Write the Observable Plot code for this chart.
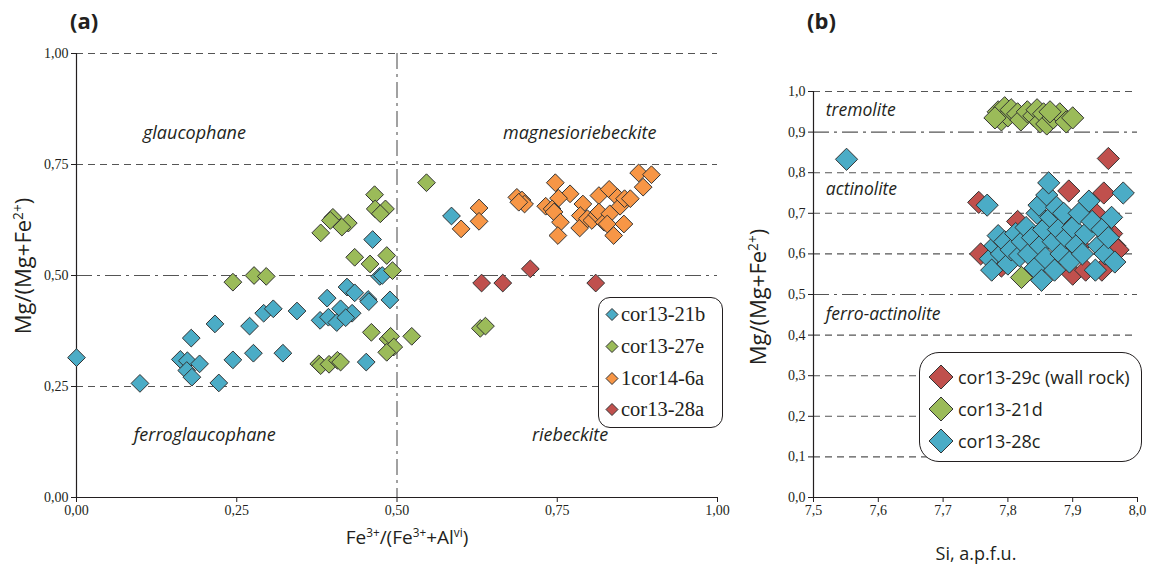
<!DOCTYPE html>
<html><head><meta charset="utf-8">
<script src="https://cdn.jsdelivr.net/npm/d3@7"></script>
<script src="https://cdn.jsdelivr.net/npm/@observablehq/plot@0.6"></script>
<style>
body{margin:0;background:#fff;}
#wrap{position:relative;width:1153px;height:572px;overflow:hidden;font-family:"Open Sans",sans-serif;color:#231f20;}
.abs{position:absolute;white-space:nowrap;}
.panel{position:absolute;top:0;}
.serif{font-family:"Liberation Serif","Times New Roman",serif !important;}
.ttl{font-weight:bold;font-size:22px;}
.lab{font-size:17px;transform:translate(-50%,-50%);}
.rot{transform:translate(-50%,-50%) rotate(-90deg);}
.leg{position:absolute;border:1px solid #231f20;background:#fff;box-sizing:border-box;}
.legrow{position:absolute;display:flex;align-items:center;white-space:nowrap;}
sup{font-size:0.62em;line-height:0;}
</style></head><body><div id="wrap"></div>
<script>
// ---------- Panel (a) data ----------
const aSeries = ["cor13-21b","cor13-27e","1cor14-6a","cor13-28a"];
const aColors = ["#4bacc6","#9bbb59","#f79646","#c0504d"];
const a21bX = [0.000,0.099,0.179,0.216,0.162,0.173,0.172,0.180,0.192,0.222,0.244,0.270,0.276,0.585,0.462,0.473,0.477,0.422,0.434,0.391,0.455,0.456,0.489,0.344,0.292,0.307,0.412,0.430,0.380,0.393,0.406,0.420,0.322,0.452];
const a21bY = [0.315,0.257,0.359,0.391,0.311,0.308,0.286,0.271,0.301,0.258,0.310,0.386,0.325,0.634,0.581,0.498,0.500,0.474,0.461,0.449,0.446,0.441,0.445,0.420,0.415,0.425,0.425,0.415,0.399,0.406,0.394,0.405,0.325,0.305];
const a27eX = [0.244,0.277,0.296,0.546,0.465,0.466,0.482,0.474,0.400,0.396,0.424,0.414,0.381,0.434,0.458,0.484,0.493,0.460,0.486,0.490,0.495,0.484,0.523,0.378,0.381,0.394,0.407,0.412,0.630,0.638];
const a27eY = [0.485,0.500,0.498,0.709,0.682,0.650,0.650,0.639,0.631,0.624,0.618,0.609,0.596,0.541,0.526,0.545,0.511,0.372,0.357,0.363,0.339,0.327,0.363,0.301,0.297,0.300,0.309,0.305,0.381,0.386];
const a6aX = [0.628,0.628,0.600,0.687,0.695,0.699,0.690,0.747,0.770,0.752,0.732,0.742,0.745,0.755,0.751,0.790,0.786,0.785,0.815,0.831,0.797,0.804,0.812,0.815,0.823,0.832,0.828,0.844,0.848,0.854,0.838,0.855,0.864,0.877,0.897,0.884];
const a6aY = [0.652,0.622,0.605,0.676,0.670,0.661,0.665,0.709,0.684,0.674,0.656,0.650,0.643,0.620,0.590,0.661,0.635,0.607,0.680,0.694,0.628,0.624,0.637,0.643,0.620,0.639,0.616,0.676,0.656,0.616,0.590,0.673,0.673,0.731,0.727,0.699];
const a28aX = [0.632,0.665,0.708,0.810];
const a28aY = [0.483,0.483,0.515,0.483];
const aTicks = [0, 0.25, 0.5, 0.75, 1];
const aDashY = [0.25, 0.75, 1.0];
const aDashDotY = [0.5];
const aDashDotX = [0.5];
const aRegionNames = ["glaucophane","magnesioriebeckite","ferroglaucophane","riebeckite"];
const aRegionX = [0.184, 0.785, 0.200, 0.770];
const aRegionY = [0.82, 0.82, 0.14, 0.14];

// ---------- Panel (b) data ----------
const bSeries = ["cor13-29c (wall rock)","cor13-21d","cor13-28c"];
const bColors = ["#c0504d","#9bbb59","#4bacc6"];
const b29cX = [7.755,7.758,7.790,7.815,7.830,7.850,7.865,7.880,7.894,7.900,7.910,7.920,7.935,7.948,7.955,7.960,7.965,7.970,7.945];
const b29cY = [0.727,0.600,0.570,0.680,0.610,0.570,0.640,0.700,0.755,0.550,0.620,0.560,0.700,0.750,0.835,0.650,0.620,0.610,0.560];
const b21dX = [7.785,7.790,7.795,7.800,7.805,7.815,7.820,7.830,7.840,7.845,7.850,7.855,7.860,7.870,7.880,7.890,7.900,7.780,7.865,7.821];
const b21dY = [0.950,0.930,0.960,0.940,0.955,0.945,0.930,0.950,0.940,0.955,0.925,0.945,0.920,0.935,0.945,0.925,0.935,0.935,0.950,0.542];
const b28cX = [7.551,7.768,7.773,7.775,7.780,7.785,7.790,7.795,7.800,7.805,7.812,7.818,7.822,7.828,7.832,7.838,7.842,7.845,7.848,7.850,7.852,7.855,7.858,7.860,7.863,7.866,7.870,7.872,7.875,7.878,7.882,7.886,7.890,7.895,7.900,7.905,7.910,7.915,7.920,7.925,7.930,7.935,7.940,7.945,7.950,7.955,7.960,7.965,7.978];
const b28cY = [0.833,0.720,0.588,0.560,0.620,0.645,0.600,0.630,0.575,0.610,0.650,0.595,0.630,0.665,0.600,0.640,0.565,0.700,0.720,0.620,0.535,0.660,0.590,0.745,0.775,0.690,0.630,0.560,0.715,0.660,0.600,0.700,0.640,0.580,0.665,0.620,0.700,0.600,0.650,0.730,0.680,0.560,0.620,0.660,0.600,0.640,0.690,0.580,0.750];
const bTicksX = [7.5,7.6,7.7,7.8,7.9,8.0];
const bTicksY = [0,0.1,0.2,0.3,0.4,0.5,0.6,0.7,0.8,0.9,1.0];
const bDashY = [0.1,0.2,0.3,0.4,0.6,0.7,0.8,1.0];
const bDashDotY = [0.5,0.9];
const bRegionNames = ["tremolite","actinolite","ferro-actinolite"];
const bRegionX = [7.519, 7.519, 7.519];
const bRegionY = [0.953, 0.759, 0.451];

// ---------- build tables ----------
function table(series, xs, ys) {
  const out = [];
  series.forEach((s, i) => xs[i].forEach((x, j) => out.push({series: s, x, y: ys[i][j]})));
  return out;
}
const aData = table(aSeries, [a21bX,a27eX,a6aX,a28aX], [a21bY,a27eY,a6aY,a28aY]);
const bData = table(bSeries, [b29cX,b21dX,b28cX], [b29cY,b21dY,b28cY]);
const aRegions = aRegionNames.map((n,i)=>({name:n,x:aRegionX[i],y:aRegionY[i]}));
const bRegions = bRegionNames.map((n,i)=>({name:n,x:bRegionX[i],y:bRegionY[i]}));

const fmt = k => d => d.toFixed(k).replace(".", ",");
const serif = '"Liberation Serif", "Times New Roman", serif';
const sans = '"Open Sans", sans-serif';
const gridStroke = "#555";
const dash = "7,5";
const dashDot = "16,5,3,5";

const plotA = Plot.plot({
  width: 740, height: 572,
  marginLeft: 76, marginRight: 23, marginTop: 53, marginBottom: 75,
  x: {domain: [0, 1]}, y: {domain: [0, 1]},
  color: {domain: aSeries, range: aColors},
  style: {background: "transparent", overflow: "visible", fontFamily: serif},
  marks: [
    Plot.ruleY(aDashY, {stroke: gridStroke, strokeDasharray: dash, strokeWidth: 1.1}),
    Plot.ruleY(aDashDotY, {stroke: gridStroke, strokeDasharray: dashDot, strokeWidth: 1.1}),
    Plot.ruleX(aDashDotX, {stroke: gridStroke, strokeDasharray: dashDot, strokeWidth: 1.1}),
    Plot.axisX({ticks: aTicks, tickFormat: fmt(2), tickSize: 5, tickPadding: 3, fontSize: 14, fontFamily: serif, label: null}),
    Plot.axisY({ticks: aTicks, tickFormat: fmt(2), tickSize: 5, tickPadding: 3, fontSize: 14, fontFamily: serif, label: null}),
    Plot.ruleX([0], {stroke: "#231f20", strokeWidth: 1.2}),
    Plot.ruleY([0], {stroke: "#231f20", strokeWidth: 1.2}),
    Plot.text(aRegions, {x: "x", y: "y", text: "name", fontStyle: "italic", fontSize: 18, fontFamily: sans, fill: "#231f20"}),
    Plot.dot(aData, {x: "x", y: "y", fill: "series", symbol: "diamond2", r: 8, stroke: "#333", strokeWidth: 1})
  ]
});

const plotB = Plot.plot({
  width: 413, height: 572,
  marginLeft: 73, marginRight: 16, marginTop: 91, marginBottom: 75,
  x: {domain: [7.5, 8.0]}, y: {domain: [0, 1]},
  color: {domain: bSeries, range: bColors},
  style: {background: "transparent", overflow: "visible", fontFamily: serif},
  marks: [
    Plot.ruleY(bDashY, {stroke: gridStroke, strokeDasharray: dash, strokeWidth: 1.1}),
    Plot.ruleY(bDashDotY, {stroke: gridStroke, strokeDasharray: dashDot, strokeWidth: 1.1}),
    Plot.axisX({ticks: bTicksX, tickFormat: fmt(1), tickSize: 5, tickPadding: 3, fontSize: 14, fontFamily: serif, label: null}),
    Plot.axisY({ticks: bTicksY, tickFormat: fmt(1), tickSize: 5, tickPadding: 3, fontSize: 14, fontFamily: serif, label: null}),
    Plot.ruleX([7.5], {stroke: "#231f20", strokeWidth: 1.2}),
    Plot.ruleY([0], {stroke: "#231f20", strokeWidth: 1.2}),
    Plot.text(bRegions, {x: "x", y: "y", text: "name", textAnchor: "start", fontStyle: "italic", fontSize: 17.5, fontFamily: sans, fill: "#231f20"}),
    Plot.dot(bData, {x: "x", y: "y", fill: "series", symbol: "diamond2", r: 10, stroke: "#333", strokeWidth: 1})
  ]
});

const wrap = document.getElementById("wrap");
plotA.classList.add("panel"); plotA.style.left = "0px";
plotB.classList.add("panel"); plotB.style.left = "740px";
wrap.appendChild(plotA);
wrap.appendChild(plotB);

function addDiv(html, cls, left, top, extra) {
  const d = document.createElement("div");
  d.className = "abs " + cls;
  d.innerHTML = html;
  d.style.left = left + "px"; d.style.top = top + "px";
  if (extra) Object.assign(d.style, extra);
  wrap.appendChild(d);
  return d;
}
addDiv("(a)", "ttl", 70, 5);
addDiv("(b)", "ttl", 807, 5);
addDiv("Mg/(Mg+Fe<sup>2+</sup>)", "lab rot", 22, 266, {fontSize: "22px"});
addDiv("Fe<sup>3+</sup>/(Fe<sup>3+</sup>+Al<sup>vi</sup>)", "lab", 407, 537, {fontSize: "19px"});
addDiv("Mg/(Mg+Fe<sup>2+</sup>)", "lab rot", 757, 297, {fontSize: "22px"});
addDiv("Si, a.p.f.u.", "lab", 976, 553, {fontSize: "18px"});

function diamond(color, h) {
  const s = 2 * h + 2;
  return `<svg width="${s}" height="${s}" style="flex:none"><polygon points="${s/2},1 ${s-1},${s/2} ${s/2},${s-1} 1,${s/2}" fill="${color}" stroke="#333" stroke-width="1"/></svg>`;
}
function legend(series, colors, box, rowTops, h, gap, cls, size) {
  const b = document.createElement("div");
  b.className = "leg";
  Object.assign(b.style, {left: box[0] + "px", top: box[1] + "px", width: box[2] + "px", height: box[3] + "px", borderRadius: box[4] + "px"});
  series.forEach((s, i) => {
    const r = document.createElement("div");
    r.className = "legrow " + cls;
    r.style.left = box[5] + "px";
    r.style.top = rowTops[i] + "px";
    r.style.transform = "translateY(-50%)";
    r.style.fontSize = size + "px";
    r.innerHTML = diamond(colors[i], h) + `<span style="margin-left:${gap}px">${s}</span>`;
    b.appendChild(r);
  });
  wrap.appendChild(b);
}
legend(aSeries, aColors, [598, 297, 125, 131, 12, 6], [16, 48, 80, 111], 6, 2, "serif", 20.5);
legend(bSeries, bColors, [919, 352, 223, 110, 20, 8], [24, 56, 88], 12, 4, "", 18);
</script></body></html>
